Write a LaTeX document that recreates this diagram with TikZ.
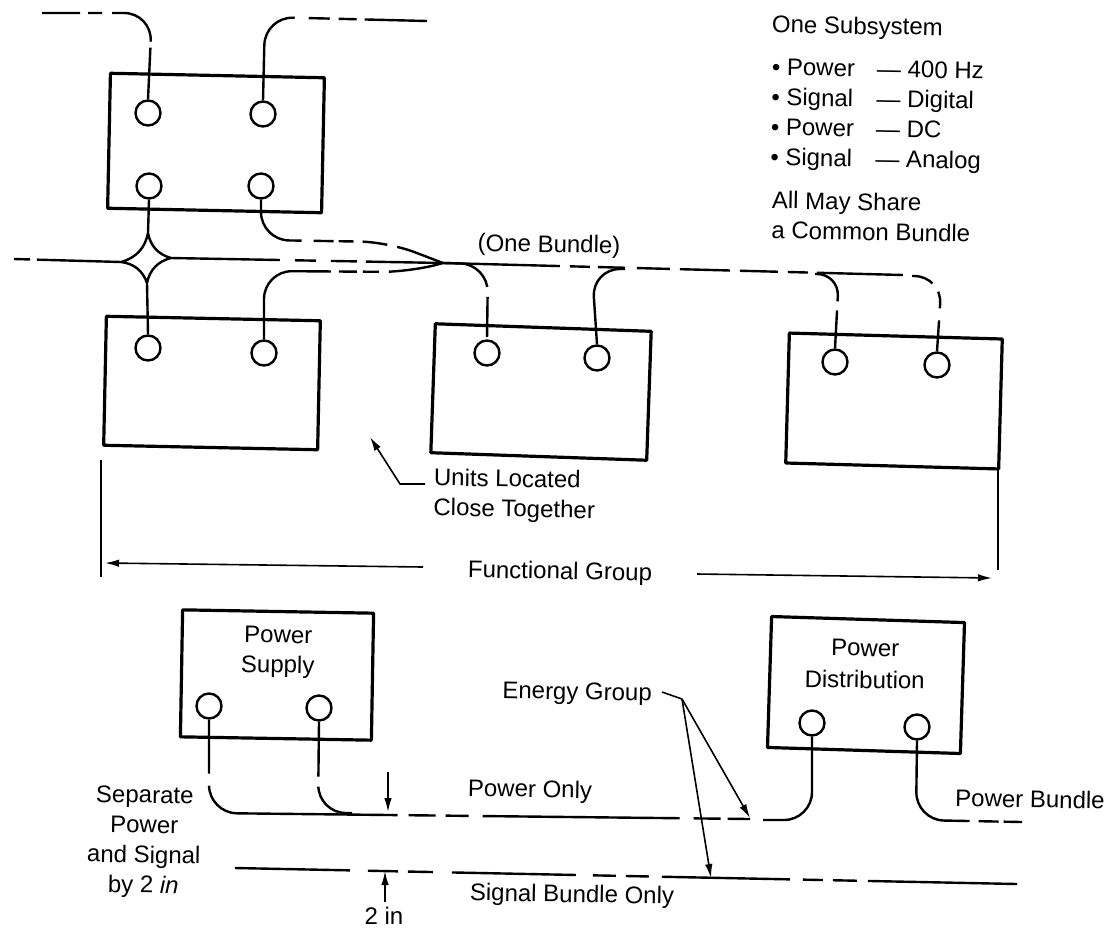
\documentclass[tikz,border=0pt]{standalone}
\usepackage{fontspec}
\setmainfont{Liberation Sans}
\usepackage{amsmath, amssymb}
\usetikzlibrary{arrows.meta}
\begin{document}
\begin{tikzpicture}[x=1pt, y=-1pt, line join=round,
  unit/.style = {shape=rectangle, draw, line width=3.2pt, inner sep=0pt},
  port/.style = {shape=circle, draw, line width=2.4pt, fill=white, inner sep=0pt, minimum size=25pt},
  lab/.style = {inner sep=0pt, align=center, rotate=-1, font=\fontsize{24}{30}\selectfont},
  wire/.style = {line width=2.4pt, rounded corners=28pt},
  leader/.style = {line width=1.6pt, -{Latex[length=14pt,width=7.5pt]}}]
  \useasboundingbox (0,0) rectangle (1115,930);
  % units
  \node[unit, minimum width=214pt, minimum height=135pt, rotate=-1.2] (unitA) at (216,143) {};
  \node[unit, minimum width=214pt, minimum height=129pt, rotate=-1.2] (unitB) at (212,383) {};
  \node[unit, minimum width=216pt, minimum height=129pt, rotate=-2] (unitC) at (541,392) {};
  \node[unit, minimum width=213pt, minimum height=130pt, rotate=-1.6] (unitD) at (894,401) {};
  \node[unit, minimum width=191pt, minimum height=127pt, rotate=-1] (supply) at (277,675) {};
  \node[unit, minimum width=193pt, minimum height=131pt, rotate=-1.8] (distrib) at (866,685) {};
  \node[lab] (supplytext) at (278,652) {Power\\Supply};
  \node[lab, font=\fontsize{24}{32}\selectfont] (distribtext) at (865,664) {Power\\Distribution};
  % ports
  \foreach \name/\x/\y in {a1/148/113, a2/263/114, a3/149/186, a4/261/186, b1/148/348, b2/264/353,
    c1/487/353, c2/597/358, d1/835/362, d2/937/365, e1/209/706, e2/319/708, f1/812/723, f2/917/727}
    \node[port] (\name) at (\x,\y) {};
  % free ends of the bundles
  \foreach \name/\x/\y in {topl/42/13, topr/427/21, inl/14/259, merge/443/263, far/903/275, sigl/235/868,
    sigr/1017/884, pwrend/750/819, bdl/1022/822, starw/121/262, stare/171/258, starn/148/233, stars/147/283}
    \coordinate (\name) at (\x,\y);
  % upper unit wires
  \draw[wire, dash pattern=on 38pt off 8pt on 14pt off 10pt on 56pt off 6pt on 60pt] (topl) -- (152,13) -- (a1.north);
  \draw[wire, dash pattern=on 101pt off 14pt on 21pt off 9pt on 18pt off 8pt on 70pt] (a2.north) -- (265,17) -- (topr);
  % star joint
  \draw[line width=2.4pt] (a3.south) -- (starn) (stars) -- (b1.north);
  \draw[line width=2.4pt] (starn) to[bend right=32] (stare) to[bend right=32] (stars)
    to[bend right=32] (starw) to[bend right=32] (starn);
  \draw[wire, dash pattern=on 16pt off 7pt on 90pt] (inl) -- (starw);
  \draw[wire, dash pattern=on 109pt off 15pt on 21pt off 15pt on 26pt off 9pt on 90pt] (stare) -- (merge);
  \draw[wire, dash pattern=on 69pt off 12pt on 20pt off 5pt on 15pt off 9pt on 25pt off 10pt on 80pt] (a4.south) -- (261,240) -- (388,242) -- (merge);
  \draw[wire, dash pattern=on 123pt off 8pt on 18pt off 6pt on 16pt off 10pt on 80pt] (b2.north) -- (264,271) -- (410,272) -- (merge);
  % main bundle
  \draw[wire, dash pattern=on 117pt off 10pt on 20pt off 8pt on 27pt off 12pt on 33pt off 10pt on 50pt off 10pt on 38pt off 10pt on 20pt off 9pt on 86pt] (merge) -- (far);
  \draw[wire, dash pattern=on 56pt off 10pt on 40pt] (merge) -- (488,264) -- (c1.north);
  \draw[wire] (c2.north) -- (592,269) -- (625,269);
  \draw[wire, rounded corners=22pt, dash pattern=on 38pt off 9pt on 60pt] (d1.north) -- (839,274) -- (815,274);
  \draw[wire, dash pattern=on 31pt off 12pt on 17pt off 10pt on 60pt] (d2.north) -- (942,276) -- (912,276);
  % lower wires
  \draw[wire, dash pattern=on 54pt off 12pt on 204pt off 11pt on 27pt off 10pt on 23pt off 14pt on 197pt off 14pt on 27pt off 7pt on 23pt] (e1.south) -- (209,813) -- (pwrend);
  \draw[wire, dash pattern=on 55pt off 10pt on 80pt] (e2.south) -- (318,813) -- (352,813);
  \draw[wire] (f1.south) -- (812,820) -- (763,820);
  \draw[wire, dash pattern=on 121pt off 9pt on 20pt off 5pt on 20pt] (f2.south) -- (916,820) -- (bdl);
  \draw[wire, dash pattern=on 115pt off 18pt on 30pt off 10pt on 25pt off 19pt on 124pt off 17pt on 23pt off 10pt on 23pt off 13pt on 128pt off 13pt on 20pt off 10pt on 24pt off 11pt on 150pt] (sigl) -- (sigr);
  % functional group span
  \node[lab] (group) at (560,573) {Functional Group};
  \coordinate (spanl) at (105,563);
  \coordinate (spanr) at (992,578);
  \coordinate (leftu) at (101,460);
  \coordinate (leftd) at (101,577);
  \coordinate (rightu) at (998,470);
  \coordinate (rightd) at (998,570);
  \draw[line width=1.8pt] (leftu) -- (leftd) (rightu) -- (rightd);
  \draw[leader] (423,567) -- (spanl);
  \draw[leader] (697,574) -- (spanr);
  % labels
  \node[lab, anchor=north west] (subsys) at (772,15) {One Subsystem};
  \node[lab, anchor=north west] (list) at (772,54) {\setlength{\baselineskip}{29.5pt}\begin{tabular}{@{}l@{\hspace{22pt}}l@{}}%
    • Power & — 400 Hz\\ • Signal & — Digital\\ • Power & — DC\\ • Signal & — Analog\end{tabular}};
  \node[lab, anchor=north west, align=left] (share) at (772,191) {All May Share\\a Common Bundle};
  \node[lab] (bundle) at (549,246) {(One Bundle)};
  \node[lab, anchor=north west, align=left] (close) at (434,468) {Units Located\\Close Together};
  \draw[leader] (425,484) -- (400,484) -- (370,437);
  \node[lab, anchor=east] (energy) at (652,695) {Energy Group};
  \coordinate (energyto) at (682,699);
  \coordinate (pwrtip) at (750,818);
  \coordinate (sigtip) at (711,878);
  \draw[line width=1.6pt] (energy.east) ++(10pt,3pt) -- (energyto);
  \draw[leader] (energyto) -- (pwrtip);
  \draw[leader] (energyto) -- (sigtip);
  \node[lab] (apart) at (144,842) {Separate\\Power\\and Signal\\by 2 \textit{in}};
  \node[lab] (ponly) at (530,791) {Power Only};
  \node[lab] (pbundle) at (1030,799) {Power Bundle};
  \node[lab] (sonly) at (572,896) {Signal Bundle Only};
  \node[lab, rotate=1] (twoin) at (384,916) {2 in};
  \draw[leader] (388,772) -- (388,812);
  \draw[leader] (385,902) -- (385,871);
\end{tikzpicture}
\end{document}
